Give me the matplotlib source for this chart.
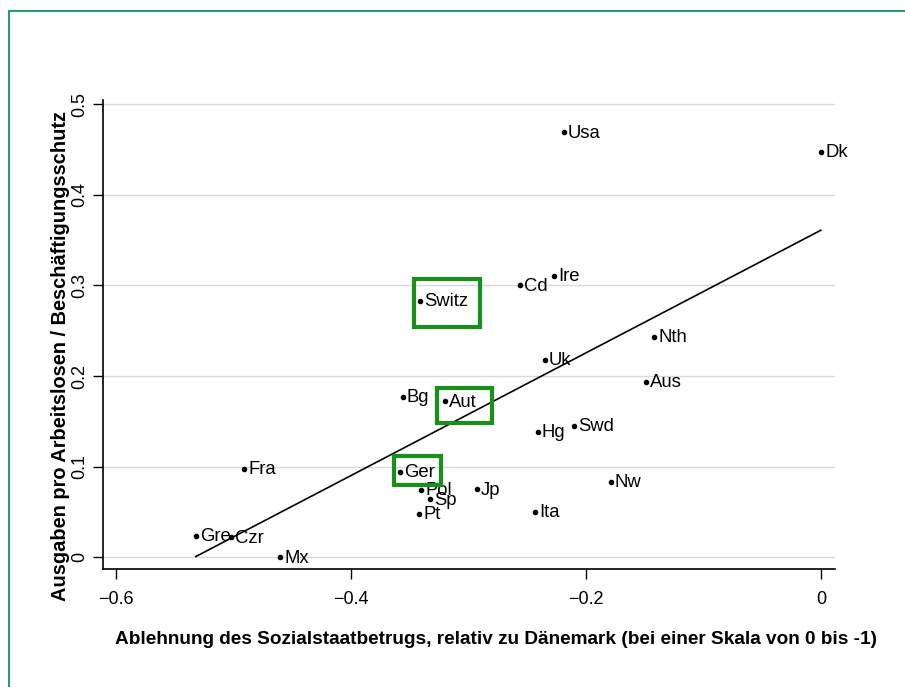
import numpy as np
import matplotlib
matplotlib.use("Agg")
import matplotlib.pyplot as plt
from matplotlib.patches import Rectangle
from matplotlib.lines import Line2D

# country codes and values per country
countries = ["Usa", "Dk", "Ire", "Cd", "Switz", "Nth", "Uk", "Aus", "Bg", "Aut",
             "Swd", "Hg", "Ger", "Pol", "Sp", "Pt", "Jp", "Ita", "Nw", "Fra",
             "Gre", "Czr", "Mx"]
rejection = [-0.219, 0.0, -0.227, -0.256, -0.341, -0.142, -0.235, -0.149, -0.356, -0.320,
             -0.210, -0.241, -0.358, -0.340, -0.333, -0.342, -0.293, -0.243, -0.179, -0.491,
             -0.532, -0.502, -0.460]
spending = [0.469, 0.447, 0.311, 0.300, 0.283, 0.243, 0.218, 0.194, 0.177, 0.172,
            0.145, 0.138, 0.094, 0.074, 0.064, 0.048, 0.075, 0.050, 0.083, 0.098,
            0.024, 0.022, 0.0]

# linear fit
fit_intercept = 0.361
fit_slope = 0.677

x_ticks = [-0.6, -0.4, -0.2, 0.0]
y_ticks = [0.0, 0.1, 0.2, 0.3, 0.4, 0.5]

# highlighted countries: box corners (x0, y0, x1, y1) in data units
highlight_boxes = {
    "Switz": (-0.3461, 0.2539, -0.2900, 0.3068),
    "Aut":   (-0.3266, 0.1486, -0.2798, 0.1869),
    "Ger":   (-0.3634, 0.0803, -0.3231, 0.1118),
}

xlabel = "Ablehnung des Sozialstaatbetrugs, relativ zu Dänemark (bei einer Skala von 0 bis -1)"
ylabel = "Ausgaben pro Arbeitslosen / Beschäftigungsschutz"

plt.rcParams["font.family"] = ["Liberation Sans", "DejaVu Sans"]

W, H = 905, 687
fig = plt.figure(figsize=(W / 100, H / 100), dpi=100)
fig.patch.set_facecolor("white")
ax = fig.add_axes([103 / W, 1 - 569 / H, 732 / W, 469 / H])

ax.set_xlim(-0.611, 0.012)
ax.set_ylim(-0.0129, 0.5047)

ax.yaxis.grid(True, color="#d9d9d9", lw=1.0)
ax.set_axisbelow(True)

xs = np.array([min(rejection), max(rejection)])
ax.plot(xs, fit_intercept + fit_slope * xs, color="black", lw=1.2, zorder=2)

ax.plot(rejection, spending, "o", ms=3, color="black", zorder=3)
for name, x, y in zip(countries, rejection, spending):
    ax.annotate(name, (x, y), xytext=(3, -0.5), textcoords="offset points",
                ha="left", va="center", fontsize=13.3, color="black", zorder=4)

for name, (x0, y0, x1, y1) in highlight_boxes.items():
    ax.add_patch(Rectangle((x0, y0), x1 - x0, y1 - y0, fill=False,
                           edgecolor="#179117", lw=3.0, zorder=5))

for side in ("top", "right"):
    ax.spines[side].set_visible(False)
for side in ("left", "bottom"):
    ax.spines[side].set_linewidth(1.2)

ax.set_xticks(x_ticks)
ax.set_xticklabels([f"{v:g}".replace("-", "\u2212") for v in x_ticks], fontsize=13)
ax.set_yticks(y_ticks)
ax.set_yticklabels([f"{v:g}" for v in y_ticks], fontsize=13, rotation=90, va="center")
ax.tick_params(axis="x", direction="out", length=7, width=1.0, pad=9)
ax.tick_params(axis="y", direction="out", length=7, width=1.0, pad=3.5)

fig.text(60 / W, 1 - 356 / H, ylabel, rotation=90, ha="center", va="center",
         fontsize=14.4, fontweight="bold")
fig.text(496 / W, 1 - 640 / H, xlabel, ha="center", va="center",
         fontsize=13.7, fontweight="bold")

# outer frame
frame_color = "#2a9b72"
fig.add_artist(Line2D([9 / W, 1], [1 - 10.5 / H] * 2, transform=fig.transFigure,
                      color=frame_color, lw=1.5))
fig.add_artist(Line2D([9 / W] * 2, [0, 1 - 10.5 / H], transform=fig.transFigure,
                      color=frame_color, lw=1.5))

fig.savefig("out.png", dpi=100)
